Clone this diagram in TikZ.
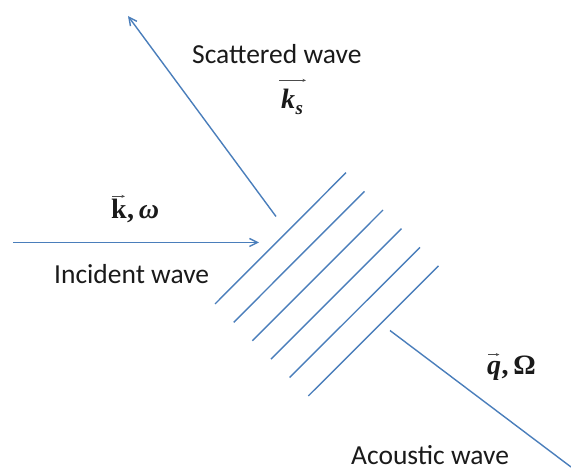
\documentclass[tikz,border=0pt]{standalone}
\usepackage{fontspec}
\setmainfont{Carlito}
\newfontfamily\tnr{Liberation Serif}
\usetikzlibrary{arrows.meta}
\definecolor{waveblue}{HTML}{4A7EBB}
\definecolor{txtgrey}{HTML}{1A1A1A}
\begin{document}
\begin{tikzpicture}[x=1pt,y=-1pt,
  wave/.style={draw=waveblue,line width=1.4pt},
  wavearrow/.style={wave,-{Straight Barb[length=8pt,width=8pt,line width=1.4pt]}},
  lbl/.style={font=\fontsize{27.5}{31}\selectfont,inner sep=0pt,anchor=base west,text=txtgrey,text depth=0pt},
  mlbl/.style={font=\tnr\bfseries\fontsize{28}{32}\selectfont,inner sep=0pt,anchor=base west,text=txtgrey},
  vecarrow/.style={draw=black!70,line width=0.6pt,-{Stealth[length=3.5pt,width=3pt]}}]
\useasboundingbox (0,0) rectangle (571,470);

% grating lines
\foreach \i in {0,...,5}{
  \draw[wave] (215+18.65*\i,304+18.4*\i) -- (346+18.5*\i,172.7+18.65*\i);
}

% scattered wave
\coordinate (sc0) at (276,216.5);
\coordinate (sc1) at (128,16);
\draw[wavearrow] (sc0) -- (sc1);

% incident wave
\coordinate (in0) at (13,242.5);
\coordinate (in1) at (259,242.5);
\draw[wavearrow] (in0) -- (in1);

% acoustic wave
\coordinate (ac0) at (390,330.5);
\coordinate (ac1) at (571,467);
\draw[wave] (ac0) -- (ac1);

% texts
\node[lbl] (scat) at (192,64) {Scattered wave};
\node[lbl] (inc) at (54,284) {Incident wave};
\node[lbl] (acou) at (351,464.5) {Acoustic wave};

% k_s
\node[mlbl] (ksk) at (281,109) {\itshape k};
\node[mlbl,font=\tnr\bfseries\itshape\fontsize{19}{22}\selectfont] (kss) at (ksk.base east) [yshift=-6pt] {s};
\draw[vecarrow] ([xshift=-2pt,yshift=9pt]ksk.north west) -- ([xshift=25pt,yshift=9pt]ksk.north west);

% k, omega
\node[mlbl] (kk) at (111,219) {k};
\node[mlbl] (kw) at (kk.base east) {,\,\itshape ω};
\draw[vecarrow] ([xshift=1pt,yshift=3pt]kk.north west) -- ([xshift=-2pt,yshift=3pt]kk.north east);

% q, Omega
\node[mlbl] (qq) at (487,375) {\itshape q};
\node[mlbl] (qw) at (qq.base east) {,\,Ω};
\draw[vecarrow] ([xshift=1pt,yshift=7pt]qq.north west) -- ([xshift=-2pt,yshift=7pt]qq.north east);
\end{tikzpicture}
\end{document}
